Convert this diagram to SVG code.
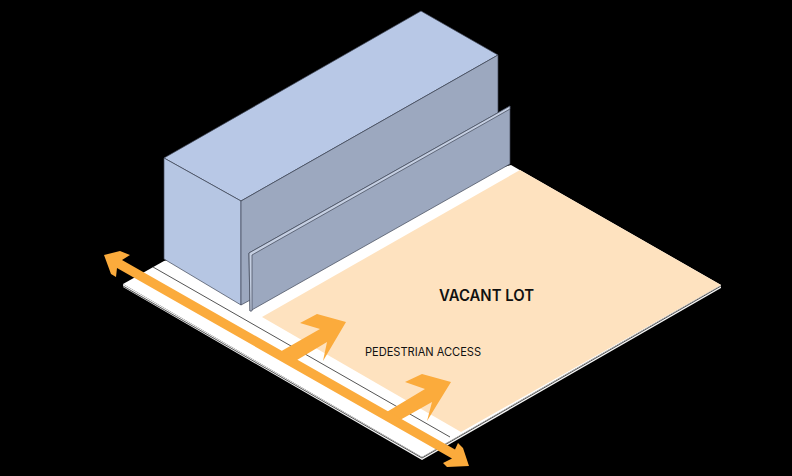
<svg xmlns="http://www.w3.org/2000/svg" width="792" height="476" viewBox="0 0 792 476">
<style>
.edge{stroke:#3f4656;stroke-width:.7;stroke-linejoin:round}
.line{stroke:#555;stroke-width:1;fill:none}
.arrow{fill:#fbab3c}
text{font-family:"Inter","Liberation Sans",sans-serif;fill:#111}
</style>
<rect width="792" height="476" fill="#000"/>
<g id="ground">
<polygon points="123,284 164,261 511,165 721,285 422,457" fill="#fff"/>
<polygon points="123,284 422,457 721,285 721,288 422,460 123,287" fill="#f4f4f4"/>
<polyline points="123,286 422,458 721,286" class="line" stroke-width=".8"/>
<polygon points="520,170 721,285 461,432 262,317" fill="#fee2bf"/>
<polyline points="153,267 450,437" class="line"/>
</g>
<g id="building">
<polygon points="164,158 421,11 498,55 241,201" fill="#b8c8e6" class="edge"/>
<polygon points="164,158 241,201 241,305 164,259" fill="#b6c6e3" class="edge"/>
<polygon points="241,201 498,55 498,166 241,305" fill="#9ca8bf" class="edge"/>
</g>
<g id="wall">
<polygon points="249,253 510,106 510,164 250,311" fill="#9ca8bf" class="edge"/>
<polygon points="249,253 510,106 510,109 252,255 252,311 250,311" fill="#c5cfe2" class="edge"/>
</g>
<g id="connectors">
<polygon class="arrow" points="346,322 317,314 300,323 320,329 278,353 292,363 327,342 323,361"/>
<polygon class="arrow" points="451,382 422,374 405,382 425,389 385,413 400,420 432,402 427,421"/>
<polygon class="arrow" points="104,255 120,251 130,255 122,260 455,449.500 458,443 463,448 469,466 447,467 443,463 452,458.600 117,268 116,277 111,274"/>
</g>
<text x="439" y="301" font-size="15.500" font-weight="600" textLength="95" lengthAdjust="spacingAndGlyphs">VACANT LOT</text>
<text x="365" y="356" font-size="11.300" textLength="116" lengthAdjust="spacingAndGlyphs">PEDESTRIAN ACCESS</text>
</svg>
